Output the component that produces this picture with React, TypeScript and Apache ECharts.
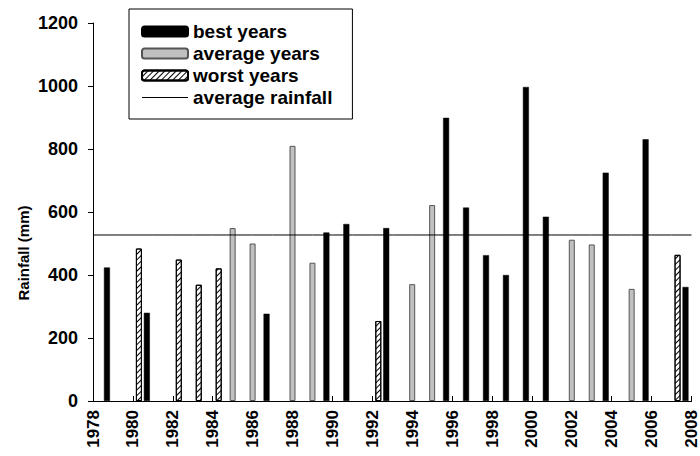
import React, { useEffect, useRef } from "react";
import * as echarts from "echarts";

const years = [
  "1978", "1979", "1980", "1981", "1982", "1983", "1984", "1985", "1986", "1987",
  "1988", "1989", "1990", "1991", "1992", "1993", "1994", "1995", "1996", "1997",
  "1998", "1999", "2000", "2001", "2002", "2003", "2004", "2005", "2006", "2007", "2008",
];

const bestYears = [
  null, 424, null, 280, null, null, null, null, null, 277,
  null, null, 535, 562, null, 549, null, null, 899, 614,
  463, 400, 997, 585, null, null, 725, null, 831, null, 362,
];

const averageYears = [
  null, null, null, null, null, null, null, 549, 500, null,
  810, 439, null, null, null, null, 371, 622, null, null,
  null, null, null, null, 512, 497, null, 356, null, null, null,
];

const worstYears = [
  null, null, 484, null, 449, 369, 421, null, null, null,
  null, null, null, null, 254, null, null, null, null, null,
  null, null, null, null, null, null, null, null, null, 464, null,
];

const averageRainfall = 527;

const yTicks = { min: 0, max: 1200, interval: 200 };

const FONT = "'Liberation Sans', Arial, sans-serif";

export default function App() {
  const ref = useRef<HTMLDivElement>(null);

  useEffect(() => {
    if (!ref.current) return;
    const chart = echarts.init(ref.current, null, { renderer: "svg" });
    const avgLine = years.map(() => averageRainfall);
    chart.setOption({
      animation: false,
      backgroundColor: "#fff",
      textStyle: { fontFamily: FONT },
      grid: { left: 93, right: 8, top: 23, bottom: 55, containLabel: false },
      legend: {
        orient: "vertical",
        left: 129,
        top: 9,
        padding: [13, 20, 12, 12],
        itemWidth: 46,
        itemHeight: 10,
        itemGap: 3,
        itemTextGap: 13,
        borderColor: "#000",
        borderWidth: 1,
        backgroundColor: "#fff",
        textStyle: { fontFamily: FONT, fontSize: 19, fontWeight: "bold", color: "#000" },
        data: [
          "best years",
          "average years",
          "worst years",
          {
            name: "average rainfall",
            icon: "path://M0,0 M46,10 M0,4.5 L46,4.5 L46,5.5 L0,5.5 Z",
          },
        ],
      },
      xAxis: {
        type: "category",
        data: years,
        boundaryGap: false,
        axisLine: { lineStyle: { color: "#000", width: 1 } },
        axisTick: { inside: true, length: 5, interval: 1, lineStyle: { color: "#000" } },
        axisLabel: {
          interval: 1,
          rotate: 90,
          margin: 9,
          fontFamily: FONT,
          fontSize: 17,
          fontWeight: "bold",
          color: "#000",
        },
        splitLine: { show: false },
      },
      yAxis: {
        type: "value",
        min: yTicks.min,
        max: yTicks.max,
        interval: yTicks.interval,
        axisLine: { show: true, lineStyle: { color: "#000", width: 1 } },
        axisTick: { show: true, inside: false, length: 5, lineStyle: { color: "#000" } },
        axisLabel: {
          margin: 15,
          fontFamily: FONT,
          fontSize: 18,
          fontWeight: "bold",
          color: "#000",
          formatter: (v: number) => String(v),
        },
        splitLine: { show: false },
      },
      graphic: [
        {
          type: "text",
          x: 23,
          y: 253,
          rotation: Math.PI / 2,
          style: {
            text: "Rainfall (mm)",
            fontFamily: FONT,
            fontSize: 15,
            fontWeight: "bold",
            fill: "#000",
            textAlign: "center",
            textVerticalAlign: "middle",
          },
        },
      ],
      series: [
        {
          name: "best years",
          type: "bar",
          data: bestYears,
          barWidth: 6,
          barGap: "0%",
          itemStyle: { color: "#000", borderColor: "#000", borderWidth: 0.5 },
        },
        {
          name: "average years",
          type: "bar",
          data: averageYears,
          barWidth: 6,
          barGap: "0%",
          itemStyle: { color: "#c0c0c0", borderColor: "#555", borderWidth: 1 },
        },
        {
          name: "worst years",
          type: "bar",
          data: worstYears,
          barWidth: 6,
          barGap: "0%",
          itemStyle: {
            color: "#fff",
            borderColor: "#000",
            borderWidth: 1,
            decal: {
              symbol: "rect",
              symbolSize: 1,
              dashArrayX: [1, 0],
              dashArrayY: [1, 3],
              rotation: -Math.PI / 4,
              color: "#000",
            },
          },
        },
        {
          name: "average rainfall",
          type: "line",
          data: avgLine,
          symbol: "none",
          showSymbol: false,
          lineStyle: { color: "#000", width: 1 },
          itemStyle: { color: "#000" },
          z: 5,
        },
      ],
    });
    return () => chart.dispose();
  }, []);

  return (
    <div
      ref={ref}
      style={{ position: "fixed", left: 0, top: 0, width: 700, height: 456 }}
    />
  );
}
